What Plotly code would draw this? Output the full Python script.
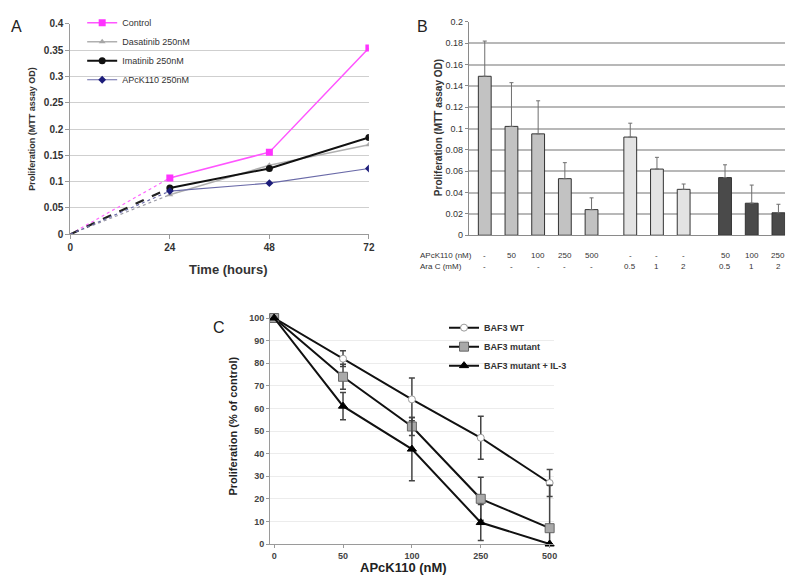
import plotly.graph_objects as go

# ---------------- Data ----------------
# Panel A
time_h = [0, 24, 48, 72]
a_control = [0, 0.107, 0.156, 0.354]
a_dasatinib = [0, 0.075, 0.131, 0.170]
a_imatinib = [0, 0.088, 0.125, 0.184]
a_apck = [0, 0.082, 0.097, 0.125]
a_names = ["Control", "Dasatinib 250nM", "Imatinib 250nM", "APcK110 250nM"]

# Panel B
b_values = [0.149, 0.102, 0.095, 0.053, 0.024, 0.092, 0.062, 0.043, 0.054, 0.030, 0.021]
b_errors = [0.033, 0.041, 0.031, 0.015, 0.011, 0.013, 0.011, 0.005, 0.012, 0.017, 0.008]
b_groups = [0, 0, 0, 0, 0, 1, 1, 1, 2, 2, 2]
b_apck_labels = ["-", "50", "100", "250", "500", "-", "-", "-", "50", "100", "250"]
b_arac_labels = ["-", "-", "-", "-", "-", "0.5", "1", "2", "0.5", "1", "2"]

# Panel C
c_doses = ["0", "50", "100", "250", "500"]
c_wt = [100, 82, 64, 47, 27]
c_wt_err = [0, 3.5, 9.5, 9.5, 6]
c_mut = [100, 74, 52, 20, 7]
c_mut_err = [0, 5.5, 4, 9.5, 19]
c_il3 = [100, 61, 42, 9.5, 0]
c_il3_err = [0, 6, 14, 8, 0]

# ---------------- Layout helpers ----------------
# page body has an 8px margin; the figure fills the rest of the 800x588 window
OFF = 8
FW, FH = 800 - OFF, 588 - OFF
def px(x):
    return (x - OFF) / FW
def py(y):
    return 1 - (y - OFF) / FH

# bar slot positions (layout, in slot units)
b_pos = [0.6, 1.6, 2.6, 3.6, 4.6, 6.05, 7.05, 8.05, 9.6, 10.6, 11.6]
group_colors = ["#c2c2c2", "#e3e3e3", "#4a4a4a"]

fig = go.Figure()

# ---------- Panel A ----------
a_series = [a_control, a_dasatinib, a_imatinib, a_apck]
a_colors = ["#ff33ff", "#a6a6a6", "#111111", "#1c1c7a"]
a_line_colors = ["#ff55ff", "#b0b0b0", "#111111", "#6a6aa8"]
a_dash_colors = ["#ff66ff", "#9a9aa6", "#222222", "#6a6aa8"]
a_dash = ["dot", "dot", "dash", "dot"]
a_dash_w = [1.2, 1.2, 2.2, 1.2]
a_line_w = [1.5, 1.5, 2.0, 1.2]
a_symbols = ["square", "triangle-up", "circle", "diamond"]
a_msize = [7, 6, 7, 6]

for i, s in enumerate(a_series):
    fig.add_trace(go.Scatter(x=time_h[:2], y=s[:2], mode="lines",
                             line=dict(color=a_dash_colors[i], width=a_dash_w[i], dash=a_dash[i]),
                             xaxis="x", yaxis="y", showlegend=False, hoverinfo="skip"))
for i, s in enumerate(a_series):
    fig.add_trace(go.Scatter(x=time_h[1:], y=s[1:], mode="lines+markers",
                             name=a_names[i],
                             line=dict(color=a_line_colors[i], width=a_line_w[i]),
                             marker=dict(symbol=a_symbols[i], size=a_msize[i], color=a_colors[i]),
                             xaxis="x", yaxis="y", legend="legend"))

# ---------- Panel B ----------
for g in range(3):
    idx = [k for k in range(len(b_values)) if b_groups[k] == g]
    fig.add_trace(go.Bar(x=[b_pos[k] for k in idx], y=[b_values[k] for k in idx],
                         width=0.48,
                         marker=dict(color=group_colors[g], line=dict(color="#333333", width=1)),
                         error_y=dict(type="data", symmetric=False,
                                      array=[b_errors[k] for k in idx],
                                      arrayminus=[0] * len(idx),
                                      color="#6e6e6e", thickness=1, width=2),
                         xaxis="x2", yaxis="y2", showlegend=False))

# ---------- Panel C ----------
c_series = [("BAF3 WT", c_wt, c_wt_err, "circle", 7, "white", "#9a9a9a"),
            ("BAF3 mutant", c_mut, c_mut_err, "square", 9, "#a9a9a9", "#666666"),
            ("BAF3 mutant + IL-3", c_il3, c_il3_err, "triangle-up", 8, "#000000", "#000000")]
for name, vals, errs, sym, ms, fc, lc in c_series:
    fig.add_trace(go.Scatter(x=c_doses, y=vals, mode="lines+markers", name=name,
                             line=dict(color="#111111", width=2),
                             marker=dict(symbol=sym, size=ms, color=fc, line=dict(color=lc, width=1)),
                             error_y=dict(type="data", array=errs, color="#444444", thickness=1.5, width=3),
                             cliponaxis=False,
                             xaxis="x3", yaxis="y3", legend="legend2"))

tickfont_a = dict(family="Liberation Sans", size=10, color="#333333", weight="bold")
tickfont_b = dict(family="Liberation Sans Narrow, Liberation Sans", size=9, color="#333333")
tickfont_c = dict(family="Liberation Sans", size=9, color="#444444", weight="bold")

fig.update_layout(
    width=FW, height=FH, margin=dict(l=0, r=0, t=0, b=0),
    paper_bgcolor="white", plot_bgcolor="white",
    showlegend=True,
    barmode="overlay",
    xaxis=dict(domain=[px(68), px(370)], range=[0, 72], tickvals=time_h,
               showgrid=False, showline=True, linecolor="#9a9a9a", linewidth=1,
               ticks="outside", ticklen=4, tickcolor="#9a9a9a", tickfont=tickfont_a,
               zeroline=False, anchor="y"),
    yaxis=dict(domain=[py(231), py(15)], range=[0, 0.4], dtick=0.05,
               showgrid=True, gridcolor="#cfcfcf", gridwidth=1,
               showline=True, linecolor="#9a9a9a", ticks="outside", ticklen=4, tickcolor="#9a9a9a",
               tickfont=tickfont_a, zeroline=False, anchor="x"),
    xaxis2=dict(domain=[px(471), px(791)], range=[0, 11.85], showticklabels=False,
                showgrid=False, showline=True, linecolor="#8a8a8a", ticks="",
                zeroline=False, anchor="y2"),
    yaxis2=dict(domain=[py(232), py(13)], range=[0, 0.2], dtick=0.02,
                showgrid=True, gridcolor="#b8b8b8", gridwidth=1.5,
                showline=True, linecolor="#8a8a8a", ticks="outside", ticklen=3, tickcolor="#8a8a8a",
                tickfont=tickfont_b, zeroline=False, anchor="x2"),
    xaxis3=dict(domain=[px(270), px(557)], type="category", range=[-0.06, 4.06],
                showgrid=False, showline=True, linecolor="#9a9a9a",
                ticks="outside", ticklen=3, tickcolor="#9a9a9a", tickfont=tickfont_c,
                zeroline=False, anchor="y3"),
    yaxis3=dict(domain=[py(549), py(317)], range=[0, 100], dtick=10,
                showgrid=True, gridcolor="#ececec", gridwidth=1,
                showline=True, linecolor="#9a9a9a", ticks="outside", ticklen=3, tickcolor="#9a9a9a",
                tickfont=tickfont_c, zeroline=False, anchor="x3"),
    legend=dict(x=px(80), y=py(-1), xanchor="left", yanchor="top",
                bgcolor="rgba(0,0,0,0)", font=dict(family="Liberation Sans", size=9, color="#333333"),
                itemwidth=30, tracegroupgap=0),
    legend2=dict(x=px(446), y=py(312), xanchor="left", yanchor="top",
                 bgcolor="rgba(0,0,0,0)",
                 font=dict(family="Liberation Sans", size=9, color="#333333", weight="bold"),
                 itemwidth=30, tracegroupgap=0),
)

ann = []
def add_text(text, x, y, size, bold=False, angle=0, xanchor="center", family="Liberation Sans", color="#222222"):
    ann.append(dict(text=text, x=px(x), y=py(y), xref="paper", yref="paper", showarrow=False,
                    textangle=angle, xanchor=xanchor, yanchor="middle",
                    font=dict(family=family, size=size, color=color, weight="bold" if bold else "normal")))

# panel letters
add_text("A", 14, 18, 16)
add_text("B", 424, 18, 16)
add_text("C", 218, 327, 16)

# panel A titles
add_text("Proliferation (MTT assay OD)", 29, 123, 9, bold=True, angle=-90, color="#333333")
add_text("Time (hours)", 228, 267, 13, bold=True, color="#333333")

# panel B titles and table
add_text("Proliferation (MTT assay OD)", 440, 122, 10, bold=True, angle=-90, color="#333333")
add_text("APcK110 (nM)", 420, 253, 8, xanchor="left", family="Liberation Sans Narrow, Liberation Sans", color="#333333")
add_text("Ara C (mM)", 420, 264, 8, xanchor="left", family="Liberation Sans Narrow, Liberation Sans", color="#333333")
for k, p in enumerate(b_pos):
    for lab, yy in ((b_apck_labels[k], 253), (b_arac_labels[k], 264)):
        ann.append(dict(text=lab, x=p, y=py(yy), xref="x2", yref="paper", showarrow=False,
                        xanchor="center", yanchor="middle",
                        font=dict(family="Liberation Sans Narrow, Liberation Sans", size=8, color="#333333")))

# panel C titles
add_text("Proliferation (% of control)", 233, 428, 11, bold=True, angle=-90, color="#222222")
add_text("APcK110 (nM)", 405, 573, 13, bold=True, color="#222222")

fig.update_layout(annotations=ann)
fig.write_html("out.html")
